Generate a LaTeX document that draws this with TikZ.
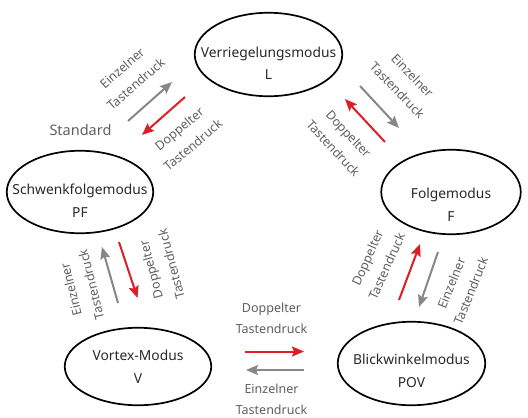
\documentclass[tikz,border=0pt]{standalone}
\usepackage{fontspec}
\setmainfont{Noto Sans}
\usetikzlibrary{shapes.geometric,arrows.meta}
\definecolor{arrgray}{RGB}{135,135,135}
\definecolor{arrred}{RGB}{222,30,38}
\definecolor{txtgray}{RGB}{95,95,95}
\definecolor{txtdark}{RGB}{40,40,40}
\tikzset{
  modeell/.style={ellipse, draw=black, line width=1.7pt, inner sep=0pt},
  modetxt/.style={align=center, text=txtdark, inner sep=0pt, font=\fontsize{13.8}{22.5}\selectfont},
  presslbl/.style={align=center, text=txtgray, inner sep=0pt, font=\fontsize{12.5}{21}\selectfont},
  grayarr/.style={draw=arrgray, line width=2pt, -{Stealth[length=12pt,width=10pt,inset=2pt]}},
  redarr/.style={draw=arrred, line width=2pt, -{Stealth[length=12pt,width=10pt,inset=2pt]}},
}
\begin{document}
\begin{tikzpicture}[x=1pt,y=1pt]
\useasboundingbox (0,0) rectangle (528,-418);
% ellipses
\node[modeell, minimum width=147.5, minimum height=83.5] (L) at (268.5,-54.5) {};
\node[modeell, minimum width=146.5, minimum height=82.5] (PF) at (80,-192) {};
\node[modeell, minimum width=139.5, minimum height=84.5] (F) at (451,-192) {};
\node[modeell, minimum width=146.5, minimum height=77.5] (V) at (138,-366.5) {};
\node[modeell, minimum width=147.5, minimum height=83.5] (POV) at (411.5,-363.5) {};
% ellipse texts
\node[modetxt] (Lt) at (268.5,-63.5) {Verriegelungsmodus\\L};
\node[modetxt] (PFt) at (80,-200.5) {Schwenkfolgemodus\\PF};
\node[modetxt] (Ft) at (451,-205) {Folgemodus\\F};
\node[modetxt] (Vt) at (138,-367) {Vortex-Modus\\V};
\node[modetxt] (POVt) at (411.5,-371) {Blickwinkelmodus\\POV};
% Standard
\node[text=txtgray, inner sep=0pt, font=\fontsize{14.5}{17}\selectfont] (std) at (80.5,-130) {Standard};
% arrow end points
\coordinate (a1s) at (128,-121); \coordinate (a1e) at (172,-82);
\coordinate (a2s) at (185,-97);  \coordinate (a2e) at (142,-135);
\coordinate (a3s) at (360,-86);  \coordinate (a3e) at (399,-128);
\coordinate (a4s) at (385,-142); \coordinate (a4e) at (345,-99);
\coordinate (a5s) at (118,-303); \coordinate (a5e) at (102,-247);
\coordinate (a6s) at (119,-242); \coordinate (a6e) at (137.5,-298);
\coordinate (a7s) at (399,-300); \coordinate (a7e) at (420,-244);
\coordinate (a8s) at (438,-252); \coordinate (a8e) at (419,-307);
\coordinate (a9s) at (245,-351.5); \coordinate (a9e) at (304,-351.5);
\coordinate (a10s) at (304,-370); \coordinate (a10e) at (246,-370);
\draw[grayarr] (a1s) -- (a1e);
\draw[redarr] (a2s) -- (a2e);
\draw[grayarr] (a3s) -- (a3e);
\draw[redarr] (a4s) -- (a4e);
\draw[grayarr] (a5s) -- (a5e);
\draw[redarr] (a6s) -- (a6e);
\draw[redarr] (a7s) -- (a7e);
\draw[grayarr] (a8s) -- (a8e);
\draw[redarr] (a9s) -- (a9e);
\draw[grayarr] (a10s) -- (a10e);
% labels
\node[presslbl, rotate=41] (l1) at (129,-76) {Einzelner\\Tastendruck};
\node[presslbl, rotate=40] (l2) at (186,-137) {Doppelter\\Tastendruck};
\node[presslbl, rotate=-46] (l3) at (405,-83) {Einzelner\\Tastendruck};
\node[presslbl, rotate=-47] (l4) at (341,-141) {Doppelter\\Tastendruck};
\node[presslbl, rotate=104] (l5) at (81,-287) {Einzelner\\Tastendruck};
\node[presslbl, rotate=105] (l6) at (161,-267) {Doppelter\\Tastendruck};
\node[presslbl, rotate=66] (l7) at (377,-262) {Doppelter\\Tastendruck};
\node[presslbl, rotate=68] (l8) at (461,-287) {Einzelner\\Tastendruck};
\node[presslbl] (l9) at (271.5,-318) {Doppelter\\Tastendruck};
\node[presslbl] (l10) at (271.5,-399) {Einzelner\\Tastendruck};
\end{tikzpicture}
\end{document}
